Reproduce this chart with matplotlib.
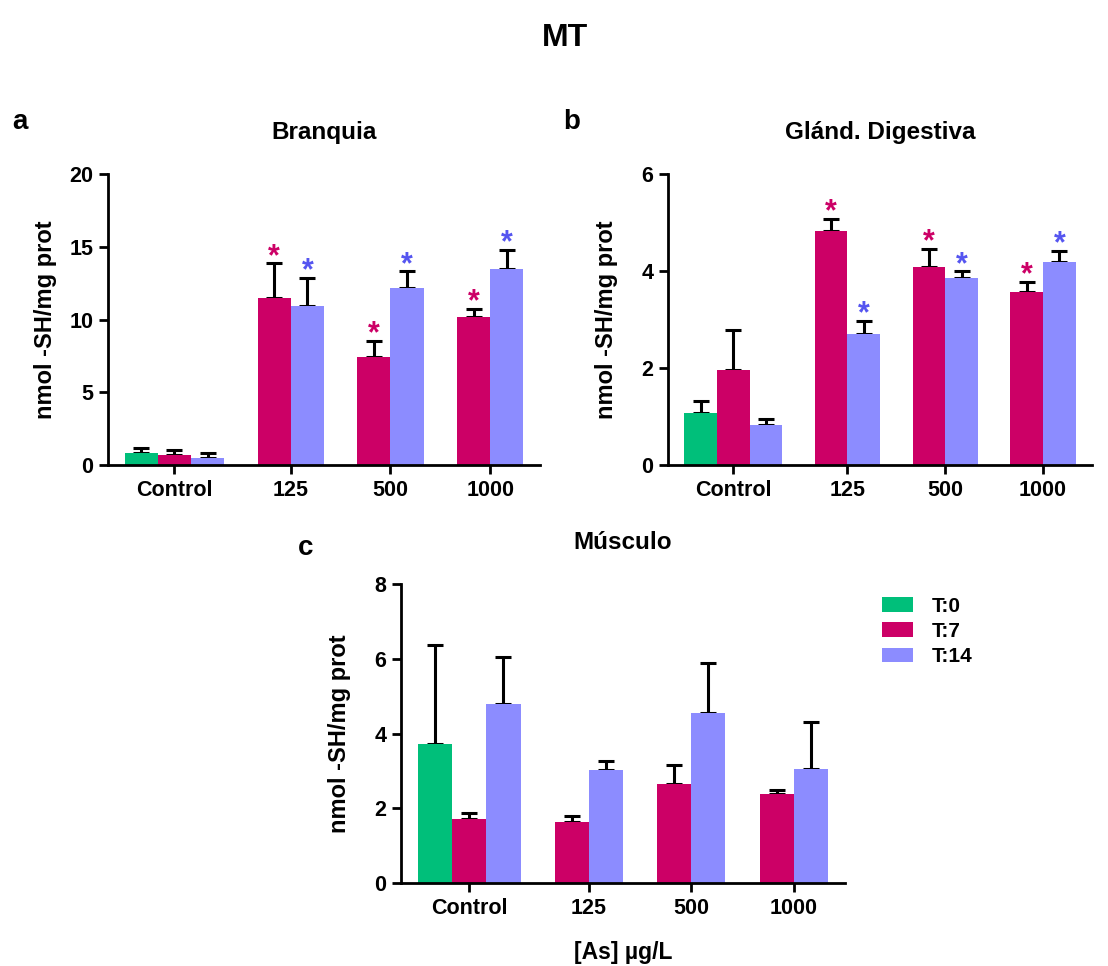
import matplotlib

matplotlib.use("Agg")
import matplotlib.pyplot as plt  # noqa: E402
import numpy as np  # noqa: E402
from matplotlib.patches import Patch  # noqa: E402

plt.rcParams["font.family"] = ["Liberation Sans", "DejaVu Sans"]
plt.rcParams["font.weight"] = "bold"

groups = ["Control", "125", "500", "1000"]
series = ["T:0", "T:7", "T:14"]

# Branquia
a_t0 = [0.85]
a_t0_err = [0.35]
a_t7 = [0.7, 11.45, 7.45, 10.15]
a_t7_err = [0.3, 2.4, 1.1, 0.55]
a_t14 = [0.5, 10.9, 12.15, 13.45]
a_t14_err = [0.35, 1.95, 1.15, 1.3]
a_sig7 = [False, True, True, True]
a_sig14 = [False, True, True, True]

# Glánd. Digestiva
b_t0 = [1.08]
b_t0_err = [0.23]
b_t7 = [1.95, 4.82, 4.08, 3.57]
b_t7_err = [0.83, 0.25, 0.37, 0.2]
b_t14 = [0.82, 2.71, 3.86, 4.18]
b_t14_err = [0.13, 0.26, 0.13, 0.23]
b_sig7 = [False, True, True, True]
b_sig14 = [False, True, True, True]

# Músculo
c_t0 = [3.73]
c_t0_err = [2.65]
c_t7 = [1.70, 1.63, 2.66, 2.37]
c_t7_err = [0.16, 0.16, 0.5, 0.11]
c_t14 = [4.79, 3.02, 4.55, 3.05]
c_t14_err = [1.27, 0.25, 1.33, 1.25]
c_sig7 = [False, False, False, False]
c_sig14 = [False, False, False, False]

GREEN = "#00bf7a"
RED = "#cc0066"
BLUE = "#8c8cff"
BLUE_STAR = "#5555f0"

W, H = 1108, 966


def box(left, top, right, bottom):
    return [left / W, 1 - bottom / H, (right - left) / W, (bottom - top) / H]


def panel(ax, t0, t0e, t7, t7e, t14, t14e, sig7, sig14, ymax, step, title, label_x):
    centers = np.array([0.0, 3.5, 6.5, 9.5])
    x0 = np.array([-1.0])
    x7 = centers - 0.5
    x7[0] = 0.0
    x14 = centers + 0.5
    x14[0] = 1.0
    for x, v, e, c in [(x0, t0, t0e, GREEN), (x7, t7, t7e, RED), (x14, t14, t14e, BLUE)]:
        ax.errorbar(x, v, yerr=[np.zeros(len(v)), e], fmt="none", ecolor="black",
                    elinewidth=2.2, capsize=5.5, capthick=2.2, zorder=1)
        ax.bar(x, v, width=1.0, color=c, edgecolor="none", zorder=2)
    for x, v, e, s, c in [(x7, t7, t7e, sig7, RED), (x14, t14, t14e, sig14, BLUE_STAR)]:
        for xi, vi, ei, si in zip(x, v, e, s):
            if si:
                ax.annotate("*", (xi, vi + ei), xytext=(0, -6), textcoords="offset points",
                            ha="center", va="bottom", fontsize=22, color=c,
                            fontweight="bold")
    ax.set_xlim(-2.0, 11.0)
    ax.set_ylim(0, ymax)
    ax.set_yticks(np.arange(0, ymax + step / 2, step))
    ax.set_xticks(centers)
    ax.set_xticklabels(groups)
    for s in ["top", "right"]:
        ax.spines[s].set_visible(False)
    for s in ["left", "bottom"]:
        ax.spines[s].set_linewidth(2.0)
    ax.tick_params(width=2.0, length=6.5, labelsize=15.5, pad=4)
    for lab in ax.get_xticklabels() + ax.get_yticklabels():
        lab.set_fontweight("bold")
    ax.set_ylabel("nmol -SH/mg prot", fontsize=17, fontweight="bold")
    ax.yaxis.set_label_coords(label_x, 0.5)
    ax.set_title(title, fontsize=17.5, fontweight="bold", pad=25)


fig = plt.figure(figsize=(W / 100, H / 100), dpi=100)
ax_a = fig.add_axes(box(108, 174, 540, 465))
ax_b = fig.add_axes(box(668, 174, 1092, 465))
ax_c = fig.add_axes(box(401, 584, 845, 883))

panel(ax_a, a_t0, a_t0_err, a_t7, a_t7_err, a_t14, a_t14_err, a_sig7, a_sig14,
      20, 5, "Branquia", -51 / 432)
panel(ax_b, b_t0, b_t0_err, b_t7, b_t7_err, b_t14, b_t14_err, b_sig7, b_sig14,
      6, 2, "Glánd. Digestiva", -50 / 424)
panel(ax_c, c_t0, c_t0_err, c_t7, c_t7_err, c_t14, c_t14_err, c_sig7, c_sig14,
      8, 2, "Músculo", -50 / 444)
ax_c.set_xlabel("[As] µg/L", fontsize=16.5, fontweight="bold", labelpad=16)

fig.text(565 / W, 1 - 38 / H, "MT", ha="center", va="center", fontsize=23, fontweight="bold")
fig.text(12 / W, 1 - 122 / H, "a", ha="left", va="center", fontsize=20, fontweight="bold")
fig.text(563 / W, 1 - 122 / H, "b", ha="left", va="center", fontsize=20, fontweight="bold")
fig.text(298 / W, 1 - 548 / H, "c", ha="left", va="center", fontsize=20, fontweight="bold")

handles = [Patch(facecolor=c, edgecolor="none") for c in (GREEN, RED, BLUE)]
fig.legend(handles, series, loc="upper left", bbox_to_anchor=(863 / W, 1 - 578 / H),
           frameon=False, prop={"size": 15, "weight": "bold"}, handlelength=1.5,
           handleheight=0.72, labelspacing=0.3, handletextpad=0.9)

fig.savefig("out.png", dpi=100)
